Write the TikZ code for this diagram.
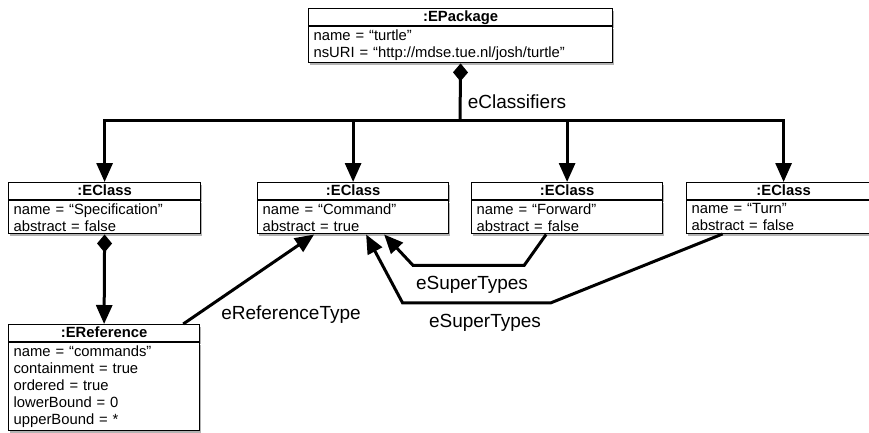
\documentclass[tikz,border=0pt]{standalone}
\usepackage{fontspec}
\setmainfont{Liberation Sans}
\usetikzlibrary{arrows.meta, shadows, calc}

\newcommand{\umlobject}[6]{
    % #1 name, #2,#3 top left corner, #4 width, #5 class, #6 slots
    \pgfmathsetlengthmacro{\tw}{#4pt-10pt}
    \node[hdr, minimum width=#4pt, anchor=north west] (#1) at (#2,#3) {#5};
    \node[attrs, minimum width=#4pt, text width=\tw, anchor=north west] (#1-a) at (#1.south west) {#6};
}

\begin{document}
\begin{tikzpicture}[x=1pt, y=-1pt]
            \tikzstyle{every node} = [font=\fontsize{14.8}{17.2}\selectfont]
            \tikzstyle{shade} = [drop shadow={shadow xshift=1pt, shadow yshift=-2.5pt, opacity=0.6}]
            \tikzstyle{hdr} = [draw, line width=1.2pt, fill=white, shade, inner ysep=1.5pt, text height=11pt, text depth=3pt, font=\fontsize{14.8}{17.2}\selectfont\bfseries]
            \tikzstyle{attrs} = [draw, line width=1.2pt, fill=white, shade, inner xsep=5pt, inner ysep=2.5pt, align=left]
            \tikzstyle{link} = [line width=3pt, line join=miter]
            \tikzstyle{pijl} = [link, -{Triangle[length=19pt, width=16pt]}]
            \tikzstyle{ruit} = [link, {Diamond[length=18pt, width=15pt]}-]
            \tikzstyle{ruitpijl} = [link, {Diamond[length=18pt, width=15pt]}-{Triangle[length=19pt, width=16pt]}]
            \tikzstyle{lbl} = [font=\fontsize{19}{22}\selectfont]

            \useasboundingbox (0,0) rectangle (869,432);
            \clip (0,0) rectangle (869,432);

            \umlobject{pkg}{308}{8}{304}{:EPackage}{name = “turtle”\\nsURI = “http://mdse.tue.nl/josh/turtle”}
            \umlobject{spec}{8}{182}{192}{:EClass}{name = “Specification”\\abstract = false}
            \umlobject{cmd}{257}{182}{191}{:EClass}{name = “Command”\\abstract = true}
            \umlobject{fwd}{471}{182}{191}{:EClass}{name = “Forward”\\abstract = false}
            \umlobject{turn}{686}{182}{194}{:EClass}{name = “Turn”\\abstract = false}
            \umlobject{eref}{8}{324}{191}{:EReference}{name = “commands”\\containment = true\\ordered = true\\lowerBound = 0\\upperBound = *}

            % containment of the classifiers
            \coordinate (bus) at (460,120);
            \draw[ruit] (pkg-a.south) -- (bus);
            \draw[pijl] (bus) -| (spec.north);
            \draw[pijl] (bus) -| (turn.north);
            \draw[pijl] (cmd.north |- bus) -- (cmd.north);
            \draw[pijl] (fwd.north |- bus) -- (fwd.north);
            \node[lbl] (classifiers) at (517,102) {eClassifiers};

            % reference and its type
            \draw[ruitpijl] (spec-a.south) -- (eref.north);
            \draw[pijl] ([xshift=-17pt]eref.north east) -- ([xshift=-39pt]cmd-a.south);
            \node[lbl] (reftype) at (291,315) {eReferenceType};

            % super types
            \draw[pijl] ([xshift=-21pt]fwd-a.south) -- ++(-22,31) -- ++(-111,0) -- ([xshift=31pt]cmd-a.south);
            \draw[pijl] ([xshift=-61pt]turn-a.south) -- ++(-172,69) -- ++(-148,0) -- ([xshift=13pt]cmd-a.south);
            \node[lbl] (super1) at (472,285) {eSuperTypes};
            \node[lbl] (super2) at (485,323) {eSuperTypes};
        \end{tikzpicture}
\end{document}
